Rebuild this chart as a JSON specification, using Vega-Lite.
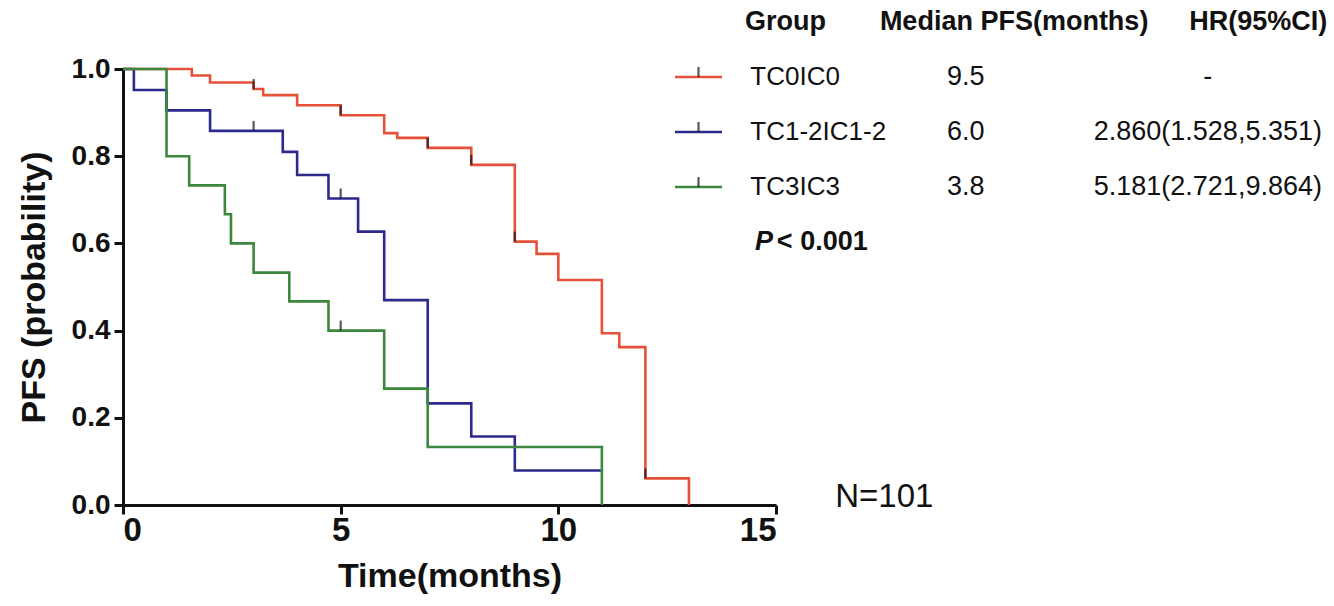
{
  "$schema": "https://vega.github.io/schema/vega-lite/v6.json",
  "width": 653,
  "height": 436,
  "autosize": {"type": "none"},
  "padding": {"left": 123, "top": 69, "right": 558, "bottom": 101},
  "background": "white",
  "config": {
    "view": {"stroke": null},
    "font": "Liberation Sans",
    "text": {"font": "Liberation Sans", "color": "#111111"},
    "axis": {
      "domainColor": "#111111",
      "domainWidth": 3,
      "tickColor": "#111111",
      "tickWidth": 3,
      "tickSize": 9,
      "grid": false,
      "labelFont": "Liberation Sans",
      "labelFontSize": 28,
      "labelFontWeight": "bold",
      "labelColor": "#111111",
      "titleFont": "Liberation Sans",
      "titleFontSize": 34,
      "titleFontWeight": "bold",
      "titleColor": "#111111"
    }
  },
  "datasets": {
    "km": [
      {"group": "TC0IC0", "time": 0, "surv": 1},
      {"group": "TC0IC0", "time": 1.58, "surv": 0.985},
      {"group": "TC0IC0", "time": 2.0, "surv": 0.969},
      {"group": "TC0IC0", "time": 3.0, "surv": 0.954},
      {"group": "TC0IC0", "time": 3.22, "surv": 0.94},
      {"group": "TC0IC0", "time": 4.0, "surv": 0.917},
      {"group": "TC0IC0", "time": 5.0, "surv": 0.894},
      {"group": "TC0IC0", "time": 6.0, "surv": 0.853},
      {"group": "TC0IC0", "time": 6.3, "surv": 0.842},
      {"group": "TC0IC0", "time": 7.0, "surv": 0.819},
      {"group": "TC0IC0", "time": 8.0, "surv": 0.78},
      {"group": "TC0IC0", "time": 9.0, "surv": 0.604},
      {"group": "TC0IC0", "time": 9.5, "surv": 0.576},
      {"group": "TC0IC0", "time": 10.0, "surv": 0.516},
      {"group": "TC0IC0", "time": 11.0, "surv": 0.394},
      {"group": "TC0IC0", "time": 11.4, "surv": 0.362},
      {"group": "TC0IC0", "time": 12.0, "surv": 0.061},
      {"group": "TC0IC0", "time": 13.0, "surv": 0.0},
      {"group": "TC1-2IC1-2", "time": 0, "surv": 1},
      {"group": "TC1-2IC1-2", "time": 0.25, "surv": 0.952},
      {"group": "TC1-2IC1-2", "time": 1.0, "surv": 0.905},
      {"group": "TC1-2IC1-2", "time": 2.0, "surv": 0.858},
      {"group": "TC1-2IC1-2", "time": 3.67, "surv": 0.81},
      {"group": "TC1-2IC1-2", "time": 4.0, "surv": 0.757},
      {"group": "TC1-2IC1-2", "time": 4.72, "surv": 0.703},
      {"group": "TC1-2IC1-2", "time": 5.4, "surv": 0.627},
      {"group": "TC1-2IC1-2", "time": 6.0, "surv": 0.47},
      {"group": "TC1-2IC1-2", "time": 7.0, "surv": 0.233},
      {"group": "TC1-2IC1-2", "time": 8.0, "surv": 0.157},
      {"group": "TC1-2IC1-2", "time": 9.0, "surv": 0.079},
      {"group": "TC1-2IC1-2", "time": 11.0, "surv": 0.079},
      {"group": "TC3IC3", "time": 0, "surv": 1},
      {"group": "TC3IC3", "time": 1.0, "surv": 0.8},
      {"group": "TC3IC3", "time": 1.52, "surv": 0.733},
      {"group": "TC3IC3", "time": 2.34, "surv": 0.667},
      {"group": "TC3IC3", "time": 2.48, "surv": 0.6},
      {"group": "TC3IC3", "time": 3.0, "surv": 0.533},
      {"group": "TC3IC3", "time": 3.82, "surv": 0.467},
      {"group": "TC3IC3", "time": 4.72, "surv": 0.4},
      {"group": "TC3IC3", "time": 6.0, "surv": 0.267},
      {"group": "TC3IC3", "time": 7.0, "surv": 0.133},
      {"group": "TC3IC3", "time": 11.0, "surv": 0.0}
    ],
    "censor": [
      {"group": "TC0IC0", "time": 3.0, "surv": 0.954},
      {"group": "TC0IC0", "time": 5.0, "surv": 0.894},
      {"group": "TC0IC0", "time": 7.0, "surv": 0.819},
      {"group": "TC0IC0", "time": 8.0, "surv": 0.78},
      {"group": "TC0IC0", "time": 9.0, "surv": 0.604},
      {"group": "TC0IC0", "time": 12.0, "surv": 0.061},
      {"group": "TC1-2IC1-2", "time": 3.0, "surv": 0.858},
      {"group": "TC1-2IC1-2", "time": 5.0, "surv": 0.703},
      {"group": "TC3IC3", "time": 5.0, "surv": 0.4}
    ],
    "table": [
      {"row": 1, "group": "TC0IC0", "median": "9.5", "hr": "-"},
      {"row": 2, "group": "TC1-2IC1-2", "median": "6.0", "hr": "2.860(1.528,5.351)"},
      {"row": 3, "group": "TC3IC3", "median": "3.8", "hr": "5.181(2.721,9.864)"}
    ],
    "headers": [
      {"col": "group", "label": "Group"},
      {"col": "median", "label": "Median PFS(months)"},
      {"col": "hr", "label": "HR(95%CI)"}
    ],
    "notes": [
      {"note": "pvalue", "label": "P"},
      {"note": "pthreshold", "label": "< 0.001"},
      {"note": "n", "label": "N=101"}
    ]
  },
  "layer": [
    {
      "layer": [
        {
          "data": {"name": "km"},
          "mark": {"type": "line", "interpolate": "step-after", "strokeWidth": 2.6},
          "encoding": {
            "x": {"field": "time", "type": "quantitative", "scale": {"domain": [0, 15], "nice": false},
                  "axis": {"values": [0, 5, 10, 15], "title": "Time(months)", "labelFontSize": 33, "labelPadding": 0, "titlePadding": 12}},
            "y": {"field": "surv", "type": "quantitative", "scale": {"domain": [0, 1], "nice": false},
                  "axis": {"values": [0, 0.2, 0.4, 0.6, 0.8, 1.0], "format": ".1f", "title": "PFS (probability)", "labelPadding": 4, "titlePadding": 20}},
            "color": {"field": "group", "type": "nominal",
                      "scale": {"domain": ["TC0IC0", "TC1-2IC1-2", "TC3IC3"], "range": ["#E6513A", "#2C2A8C", "#3C873E"]},
                      "legend": null}
          }
        },
        {
          "data": {"name": "censor"},
          "mark": {"type": "tick", "orient": "vertical", "size": 10, "thickness": 2.2, "color": "#111111", "yOffset": -5},
          "encoding": {
            "x": {"field": "time", "type": "quantitative", "scale": {"domain": [0, 15], "nice": false}},
            "y": {"field": "surv", "type": "quantitative", "scale": {"domain": [0, 1], "nice": false}}
          }
        },
        {
          "data": {"name": "notes"},
          "transform": [{"filter": "datum.note === 'n'"}],
          "mark": {"type": "text", "align": "left", "baseline": "middle", "fontSize": 33, "color": "#111111"},
          "encoding": {
            "text": {"field": "label"},
            "x": {"datum": 16.36, "type": "quantitative", "scale": {"domain": [0, 15], "nice": false}},
            "y": {"datum": 0.018, "type": "quantitative", "scale": {"domain": [0, 1], "nice": false}}
          }
        }
      ]
    },
    {
      "layer": [
        {
          "data": {"name": "table"},
          "mark": {"type": "rule", "strokeWidth": 2.6},
          "encoding": {
            "x": {"datum": 12.68, "type": "quantitative", "scale": {"domain": [0, 15], "nice": false}},
            "x2": {"datum": 13.76},
            "y": {"field": "row", "type": "quantitative", "scale": {"domain": [0.8545, 8.782], "reverse": true, "zero": false, "nice": false}, "axis": null},
            "color": {"field": "group", "type": "nominal", "legend": null}
          }
        },
        {
          "data": {"name": "table"},
          "mark": {"type": "tick", "orient": "vertical", "size": 10, "thickness": 2.2, "color": "#111111", "yOffset": -5},
          "encoding": {
            "x": {"datum": 13.22, "type": "quantitative", "scale": {"domain": [0, 15], "nice": false}},
            "y": {"field": "row", "type": "quantitative", "scale": {"domain": [0.8545, 8.782], "reverse": true, "zero": false, "nice": false}, "axis": null}
          }
        },
        {
          "data": {"name": "table"},
          "mark": {"type": "text", "align": "left", "baseline": "middle", "fontSize": 26},
          "encoding": {
            "text": {"field": "group"},
            "x": {"datum": 14.41, "type": "quantitative", "scale": {"domain": [0, 15], "nice": false}},
            "y": {"field": "row", "type": "quantitative", "scale": {"domain": [0.8545, 8.782], "reverse": true, "zero": false, "nice": false}, "axis": null}
          }
        },
        {
          "data": {"name": "table"},
          "mark": {"type": "text", "align": "center", "baseline": "middle", "fontSize": 27},
          "encoding": {
            "text": {"field": "median"},
            "x": {"datum": 19.36, "type": "quantitative", "scale": {"domain": [0, 15], "nice": false}},
            "y": {"field": "row", "type": "quantitative", "scale": {"domain": [0.8545, 8.782], "reverse": true, "zero": false, "nice": false}, "axis": null}
          }
        },
        {
          "data": {"name": "table"},
          "mark": {"type": "text", "align": "center", "baseline": "middle", "fontSize": 27},
          "encoding": {
            "text": {"field": "hr"},
            "x": {"datum": 24.92, "type": "quantitative", "scale": {"domain": [0, 15], "nice": false}},
            "y": {"field": "row", "type": "quantitative", "scale": {"domain": [0.8545, 8.782], "reverse": true, "zero": false, "nice": false}, "axis": null}
          }
        },
        {
          "data": {"name": "headers"},
          "transform": [{"filter": "datum.col === 'group'"}],
          "mark": {"type": "text", "align": "left", "baseline": "middle", "fontSize": 27, "fontWeight": "bold"},
          "encoding": {
            "text": {"field": "label"},
            "x": {"datum": 14.29, "type": "quantitative", "scale": {"domain": [0, 15], "nice": false}},
            "y": {"datum": 0, "type": "quantitative", "scale": {"domain": [0.8545, 8.782], "reverse": true, "zero": false, "nice": false}, "axis": null}
          }
        },
        {
          "data": {"name": "headers"},
          "transform": [{"filter": "datum.col === 'median'"}],
          "mark": {"type": "text", "align": "center", "baseline": "middle", "fontSize": 27, "fontWeight": "bold"},
          "encoding": {
            "text": {"field": "label"},
            "x": {"datum": 20.47, "type": "quantitative", "scale": {"domain": [0, 15], "nice": false}},
            "y": {"datum": 0, "type": "quantitative", "scale": {"domain": [0.8545, 8.782], "reverse": true, "zero": false, "nice": false}, "axis": null}
          }
        },
        {
          "data": {"name": "headers"},
          "transform": [{"filter": "datum.col === 'hr'"}],
          "mark": {"type": "text", "align": "center", "baseline": "middle", "fontSize": 27, "fontWeight": "bold"},
          "encoding": {
            "text": {"field": "label"},
            "x": {"datum": 26.08, "type": "quantitative", "scale": {"domain": [0, 15], "nice": false}},
            "y": {"datum": 0, "type": "quantitative", "scale": {"domain": [0.8545, 8.782], "reverse": true, "zero": false, "nice": false}, "axis": null}
          }
        },
        {
          "data": {"name": "notes"},
          "transform": [{"filter": "datum.note === 'pvalue'"}],
          "mark": {"type": "text", "align": "left", "baseline": "middle", "fontSize": 27, "fontWeight": "bold", "fontStyle": "italic"},
          "encoding": {
            "text": {"field": "label"},
            "x": {"datum": 14.52, "type": "quantitative", "scale": {"domain": [0, 15], "nice": false}},
            "y": {"datum": 4, "type": "quantitative", "scale": {"domain": [0.8545, 8.782], "reverse": true, "zero": false, "nice": false}, "axis": null}
          }
        },
        {
          "data": {"name": "notes"},
          "transform": [{"filter": "datum.note === 'pthreshold'"}],
          "mark": {"type": "text", "align": "left", "baseline": "middle", "fontSize": 27, "fontWeight": "bold"},
          "encoding": {
            "text": {"field": "label"},
            "x": {"datum": 15.02, "type": "quantitative", "scale": {"domain": [0, 15], "nice": false}},
            "y": {"datum": 4, "type": "quantitative", "scale": {"domain": [0.8545, 8.782], "reverse": true, "zero": false, "nice": false}, "axis": null}
          }
        }
      ]
    }
  ],
  "resolve": {"scale": {"y": "independent"}}
}
